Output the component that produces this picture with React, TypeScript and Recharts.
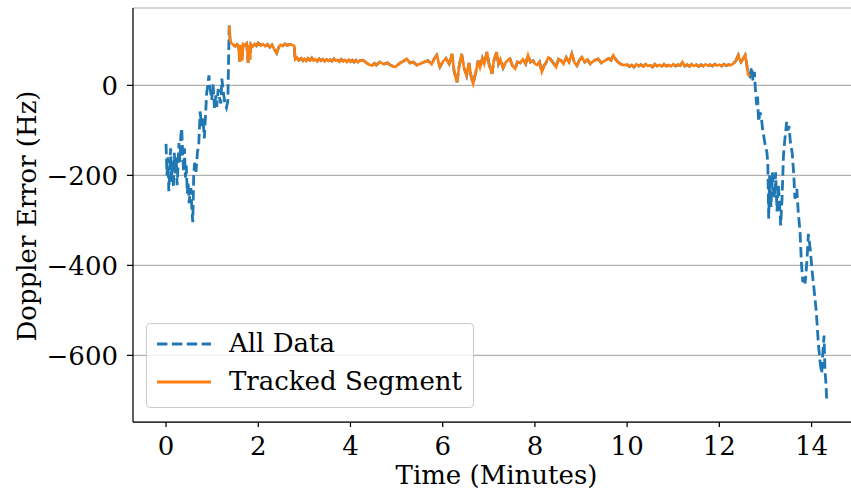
import { LineChart, Line, XAxis, YAxis, CartesianGrid } from "recharts"

// Doppler error before the tracker locks on (blue only)
const leadIn: [number, number][] = [
  [0.0, -130], [0.02, -200], [0.04, -160], [0.06, -235], [0.08, -185], [0.1, -140],
  [0.12, -215], [0.14, -170], [0.16, -228], [0.18, -150], [0.2, -195], [0.22, -160],
  [0.24, -222], [0.26, -180], [0.28, -128], [0.3, -170], [0.32, -112], [0.34, -95],
  [0.36, -150], [0.38, -192], [0.4, -140], [0.42, -205], [0.44, -178], [0.46, -240],
  [0.48, -215], [0.5, -262], [0.52, -238], [0.54, -228], [0.56, -275], [0.58, -304],
  [0.6, -200], [0.62, -172], [0.65, -192], [0.68, -150], [0.71, -130], [0.74, -58],
  [0.77, -90], [0.8, -72], [0.83, -118], [0.86, -60], [0.88, -18], [0.91, 5],
  [0.93, 22], [0.96, -10], [0.99, -32], [1.02, 2], [1.05, -50], [1.08, -22],
  [1.1, -48], [1.13, -8], [1.16, -28], [1.19, -40], [1.21, 15], [1.24, -12],
  [1.28, -42], [1.31, -50], [1.34, -35],
]

// tracked segment (orange, also part of all data)
const tracked: [number, number][] = [
  [1.37, 133], [1.39, 100], [1.42, 94], [1.46, 90], [1.5, 87], [1.54, 91], [1.57, 88],
  [1.6, 52], [1.62, 90], [1.65, 55], [1.67, 92], [1.71, 89], [1.75, 93], [1.78, 50],
  [1.8, 88], [1.82, 58], [1.84, 91], [1.88, 86], [1.92, 92], [1.96, 88], [2.0, 94],
  [2.05, 89], [2.1, 92], [2.15, 87], [2.2, 91], [2.25, 85], [2.3, 90], [2.35, 80],
  [2.4, 72], [2.44, 84], [2.48, 90], [2.53, 88], [2.58, 92], [2.63, 89], [2.68, 91],
  [2.74, 90], [2.78, 88], [2.8, 58], [2.84, 62], [2.88, 56], [2.93, 60], [2.97, 55],
  [3.0, 59], [3.04, 54], [3.08, 60], [3.12, 56], [3.16, 61], [3.2, 55], [3.24, 58],
  [3.28, 54], [3.32, 59], [3.36, 55], [3.4, 58], [3.44, 53], [3.48, 58], [3.52, 55],
  [3.56, 57], [3.6, 54], [3.64, 59], [3.68, 55], [3.72, 57], [3.76, 53], [3.8, 58],
  [3.84, 54], [3.88, 56], [3.92, 52], [3.96, 57], [4.0, 53], [4.04, 56], [4.08, 52],
  [4.12, 56], [4.16, 51], [4.2, 55], [4.27, 56], [4.35, 50], [4.41, 46], [4.47, 44],
  [4.52, 49], [4.56, 45], [4.64, 52], [4.72, 47], [4.8, 50],
  [4.88, 44], [4.97, 41], [5.08, 50], [5.15, 54], [5.22, 59], [5.29, 50], [5.36, 52],
  [5.44, 45], [5.51, 48], [5.6, 52], [5.68, 55], [5.76, 47], [5.82, 60], [5.87, 67],
  [5.94, 41], [6.0, 52], [6.07, 60], [6.14, 48], [6.2, 70], [6.25, 30], [6.31, 7],
  [6.36, 45], [6.41, 70], [6.46, 40], [6.52, 22], [6.57, 50], [6.62, 18], [6.66, 4],
  [6.72, 30], [6.77, 55], [6.81, 40], [6.86, 60], [6.9, 48], [6.96, 74], [7.01, 45],
  [7.07, 26], [7.11, 55], [7.17, 74], [7.21, 48], [7.25, 58], [7.31, 39], [7.36, 50],
  [7.4, 55], [7.46, 59], [7.51, 44], [7.57, 37], [7.62, 52], [7.68, 50], [7.74, 58],
  [7.8, 48], [7.85, 67], [7.9, 52], [7.96, 55], [8.0, 48], [8.05, 45], [8.1, 52],
  [8.15, 30], [8.2, 44], [8.24, 50], [8.29, 62], [8.33, 59], [8.4, 50], [8.46, 41],
  [8.51, 58], [8.57, 55], [8.62, 48], [8.68, 62], [8.74, 52], [8.8, 70], [8.86, 50],
  [8.91, 44], [8.96, 55], [9.02, 63], [9.08, 52], [9.14, 57], [9.2, 48], [9.28, 55],
  [9.37, 59], [9.44, 50], [9.52, 55], [9.6, 60], [9.65, 56], [9.7, 67], [9.75, 58],
  [9.8, 52], [9.85, 48], [9.92, 45], [10.0, 46], [10.05, 42], [10.1, 45], [10.15, 41],
  [10.2, 47], [10.25, 43], [10.3, 46], [10.35, 42], [10.4, 47], [10.45, 43], [10.5, 45],
  [10.55, 41], [10.6, 47], [10.65, 43], [10.7, 46], [10.75, 42], [10.8, 47], [10.85, 43],
  [10.9, 45], [10.95, 42], [11.0, 47], [11.05, 43], [11.1, 46], [11.15, 44], [11.2, 52],
  [11.25, 43], [11.3, 46], [11.35, 42], [11.4, 47], [11.45, 43], [11.5, 46], [11.55, 42],
  [11.6, 46], [11.65, 43], [11.7, 47], [11.75, 44], [11.8, 46], [11.85, 43], [11.9, 47],
  [11.95, 44], [12.0, 46], [12.05, 43], [12.1, 47], [12.15, 44], [12.2, 46], [12.25, 45],
  [12.3, 48], [12.36, 55],
  [12.41, 67], [12.44, 58], [12.47, 52], [12.52, 60], [12.56, 67], [12.59, 50],
  [12.62, 25], [12.66, 20],
]

// after the track is lost (blue only)
const leadOut: [number, number][] = [
  [12.7, 41], [12.73, 10], [12.76, 30], [12.78, -7], [12.81, -44], [12.83, -25],
  [12.85, -81], [12.88, -60], [12.91, -70], [12.94, -100], [12.96, -111], [12.99, -130],
  [13.03, -148], [13.05, -170], [13.07, -296], [13.09, -200], [13.12, -270], [13.15, -193],
  [13.17, -230], [13.2, -250], [13.22, -193], [13.25, -280], [13.28, -220], [13.31, -270],
  [13.33, -311], [13.36, -250], [13.39, -156], [13.42, -120], [13.46, -81], [13.49, -100],
  [13.51, -90], [13.54, -126], [13.58, -150], [13.61, -193], [13.64, -252], [13.68, -230],
  [13.71, -280], [13.75, -326], [13.78, -396], [13.81, -437], [13.83, -425], [13.86, -440],
  [13.9, -390], [13.93, -330], [13.95, -345], [13.98, -374], [14.01, -411], [14.05, -450],
  [14.1, -500], [14.15, -578], [14.19, -620], [14.22, -640], [14.24, -600], [14.27, -556],
  [14.29, -633], [14.31, -660], [14.33, -704],
]

const xTicks = [0, 2, 4, 6, 8, 10, 12, 14]
const yTicks = [-600, -400, -200, 0]

const toRows = (pts: [number, number][]) => pts.map(([t, v]) => ({ t, v }))
const allData = toRows([...leadIn, ...tracked, ...leadOut])
const trackedData = toRows(tracked)

const BLUE = "#1f77b4"
const ORANGE = "#ff7f0e"
const FONT = "DejaVu Serif"
const FS = 26
const tickStyle = { fill: "#000", fontSize: FS, fontFamily: FONT }

const fmtY = (v: number) => (v < 0 ? "\u2212" + Math.abs(v) : String(v))

function LegendBox() {
  const row = (top: number, color: string, dashed: boolean, text: string) => (
    <div style={{ position: "absolute", left: 0, top: top, height: 0 }}>
      <svg width={60} height={6} style={{ position: "absolute", left: 9, top: -3 }}>
        <line x1={1} y1={3} x2={55} y2={3} stroke={color} strokeWidth={2.8}
          strokeDasharray={dashed ? "10.4 4.5" : undefined} />
      </svg>
      <span style={{ position: "absolute", left: 82, top: -16, fontSize: FS, fontFamily: FONT,
        lineHeight: "30px", whiteSpace: "nowrap", color: "#000" }}>{text}</span>
    </div>
  )
  return (
    <div style={{ position: "absolute", left: 146, top: 323, width: 326, height: 83,
      border: "1px solid #cccccc", borderRadius: 4, background: "rgba(255,255,255,0.8)" }}>
      {row(20, BLUE, true, "All Data")}
      {row(58, ORANGE, false, "Tracked Segment")}
    </div>
  )
}

export default function App() {
  return (
    <div style={{ position: "absolute", left: 0, top: 0, width: 851, height: 490,
      overflow: "hidden", background: "#fff" }}>
      <LineChart width={880} height={490} margin={{ top: 8, right: 20, bottom: 0, left: 0 }}>
        <CartesianGrid vertical={false} stroke="#b0b0b0" strokeWidth={1.1} />
        <XAxis
          type="number"
          dataKey="t"
          domain={[-0.7165, 15.05]}
          ticks={xTicks}
          allowDataOverflow
          height={68}
          tick={tickStyle}
          tickSize={5}
          tickMargin={10}
          tickLine={{ stroke: "#000", strokeWidth: 1.25 }}
          axisLine={{ stroke: "#000", strokeWidth: 1.25 }}
          label={{ value: "Time (Minutes)", position: "insideBottom", offset: 6,
            style: { fill: "#000", fontSize: FS, fontFamily: FONT } }}
        />
        <XAxis xAxisId="top" orientation="top" type="number" domain={[-0.7165, 15.05]}
          height={0} tick={false} tickLine={false} axisLine={{ stroke: "#000", strokeWidth: 1.25 }} />
        <YAxis
          type="number"
          domain={[-748, 172]}
          ticks={yTicks}
          allowDataOverflow
          width={133}
          tick={tickStyle}
          tickFormatter={fmtY}
          tickSize={6}
          tickMargin={9}
          tickLine={{ stroke: "#000", strokeWidth: 1.25 }}
          axisLine={{ stroke: "#000", strokeWidth: 1.25 }}
          label={(props: any) => (
            <text x={36} y={216} transform="rotate(-90 36 216)" textAnchor="middle"
              fill="#000" fontSize={FS} fontFamily={FONT}>Doppler Error (Hz)</text>
          )}
        />
        <Line data={allData} dataKey="v" type="linear" stroke={BLUE} strokeWidth={2.8}
          strokeDasharray="10.4 4.5" dot={false} activeDot={false} isAnimationActive={false} />
        <Line data={trackedData} dataKey="v" type="linear" stroke={ORANGE} strokeWidth={2.6}
          dot={false} activeDot={false} isAnimationActive={false} />
      </LineChart>
      <LegendBox />
    </div>
  )
}
